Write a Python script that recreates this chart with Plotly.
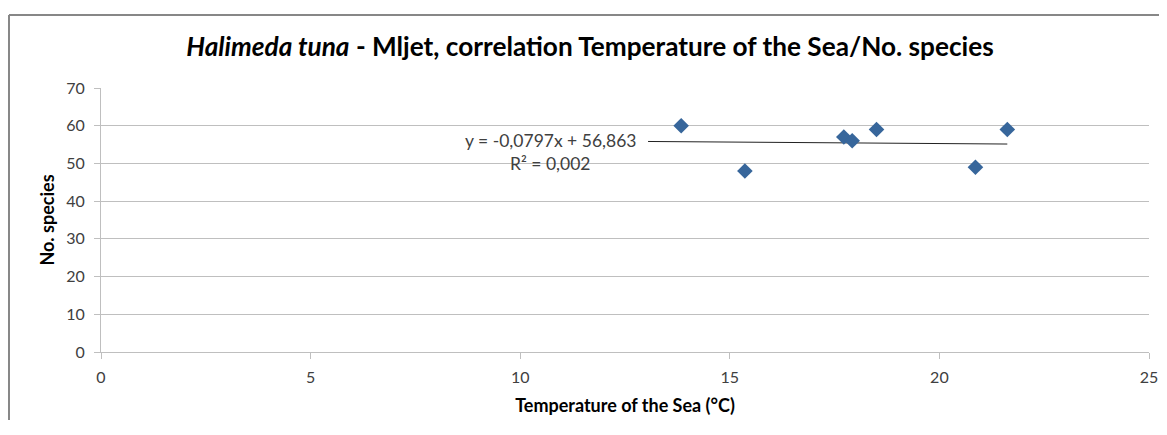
import plotly.graph_objects as go

# Data
temperature = [13.84, 15.36, 17.72, 17.92, 18.5, 20.86, 21.62]
species = [60, 48, 57, 56, 59, 49, 59]

# Trendline (as reported by the chart)
slope = -0.0797
intercept = 56.863
trend_x = [13.05, 21.62]
trend_y = [slope * x + intercept for x in trend_x]

eq_text = "y = -0,0797x + 56,863"
r2_text = "R² = 0,002"

title_text = "<i>Halimeda tuna</i> - Mljet, correlation Temperature of the Sea/No. species"
x_title = "Temperature of the Sea (°C)"
y_title = "No. species"

FONT = "Lato, Calibri, sans-serif"

fig = go.Figure()
fig.add_trace(go.Scatter(
    x=trend_x, y=trend_y, mode="lines",
    line=dict(color="#222222", width=1), hoverinfo="skip", showlegend=False))
fig.add_trace(go.Scatter(
    x=temperature, y=species, mode="markers",
    marker=dict(symbol="diamond", size=12, color="#37669B"),
    showlegend=False))

H = 412
# page body has an 8px margin: figure sits at (8, 8); keep it inside the window
fig.update_layout(
    width=1151, height=H,
    margin=dict(l=93, r=10, t=80, b=H - 80 - 264, autoexpand=False),
    paper_bgcolor="white", plot_bgcolor="white",
    font=dict(family=FONT, color="#404040", size=14),
    title=dict(text=title_text, x=0.4666, xref="paper", xanchor="center",
               y=1 - 39 / H, yanchor="middle",
               font=dict(family=FONT, size=26.2, color="black", weight="bold")),
    xaxis=dict(range=[0, 25], dtick=5, tick0=0, showgrid=False, zeroline=False,
               automargin=False,
               showline=True, linecolor="#BFBFBF", linewidth=1,
               ticks="outside", ticklen=6, tickcolor="#BFBFBF",
               ticklabelstandoff=5,
               tickfont=dict(size=16, color="#404040"),
               title=dict(text=x_title, standoff=14,
                          font=dict(size=18, color="black", weight="bold"))),
    yaxis=dict(range=[0, 70], dtick=10, tick0=0, showgrid=True, gridcolor="#BFBFBF",
               gridwidth=1, zeroline=False, automargin=False,
               showline=True, linecolor="#BFBFBF", linewidth=1,
               ticks="outside", ticklen=6, tickcolor="#BFBFBF",
               ticklabelstandoff=6,
               tickfont=dict(size=16, color="#404040"),
               title=dict(text=y_title, standoff=6,
                          font=dict(size=18, color="black", weight="bold"))),
)

fig.add_annotation(x=10.73, y=56.2, xref="x", yref="y", text=eq_text,
                   showarrow=False, font=dict(size=17.5, color="#404040"))
fig.add_annotation(x=10.73, y=50.1, xref="x", yref="y", text=r2_text,
                   showarrow=False, font=dict(size=17.5, color="#404040"))

# Chart-area border (only top and left edges are visible in the crop)
fig.add_shape(type="line", xref="paper", yref="paper",
              x0=-0.0878, x1=1.05, y0=1.2765, y1=1.2765,
              line=dict(color="#878787", width=2), layer="below")
fig.add_shape(type="line", xref="paper", yref="paper",
              x0=-0.0878, x1=-0.0878, y0=-0.6, y1=1.2765,
              line=dict(color="#878787", width=2), layer="below")

fig.write_html("out.html")
